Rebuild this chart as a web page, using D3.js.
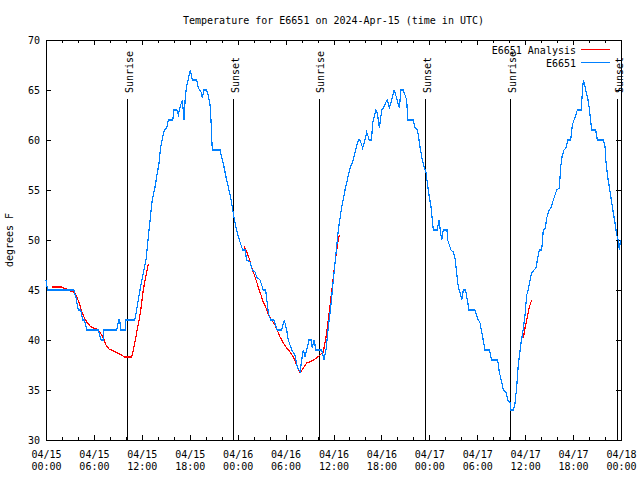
<!DOCTYPE html>
<html>
<head>
<meta charset="utf-8">
<script src="https://cdn.jsdelivr.net/npm/d3@7"></script>
<style>
body { margin:0; background:#fff; }
#vis1 { width:640px; height:480px; }
text { font-family:"DejaVu Sans Mono","Liberation Mono",monospace; font-size:10px; fill:#000; }
</style>
</head>
<body>
<div id="vis1"></div>
<script>
var start = Date.UTC(2024, 3, 15);   // 04/15 00:00 UTC

// hours after start, degrees F
var obs = [[0,46],[0.2,45],[3.5,45],[3.76,44.2],[4.04,43],[4.35,43],[4.6,42],[4.82,42],[5.1,41],[6.55,41],
	[6.9,40],[7.14,40],[7.26,41],[8.85,41],[9.1,42],[9.23,42],[9.35,41],[9.9,41],[10.0,42],[11.1,42],
	[11.35,43],[11.77,45],[12.18,46.7],[12.52,48],[12.9,51],[13.3,54],[13.65,55.3],[13.94,56.7],[14.15,57.7],[14.36,59.3],
	[14.61,60.3],[14.81,61],[15.11,61.2],[15.31,62],[15.87,62],[16.03,63],[16.37,63],[16.57,62.5],[16.78,63.3],[17.07,64],
	[17.28,62],[17.44,64.3],[17.62,65.4],[17.87,66.3],[18.07,67],[18.32,66],[18.87,66],[19.07,65.2],[19.41,64.8],[19.57,64.2],
	[19.78,65],[20.07,65],[20.32,64.5],[20.54,63.5],[20.66,62],[20.82,59],[21.79,59],[22.0,58.3],[22.29,57.3],[22.54,56.3],
	[22.83,55.3],[23.13,54.2],[23.45,52.7],[23.67,51.7],[23.95,50.7],[24.29,49.8],[24.63,49],[24.92,49],[25.13,48],[25.55,47.8],
	[25.83,47],[26.17,46.8],[26.38,46.3],[26.8,46],[27.21,45],[27.51,45],[27.84,42.7],[28.14,42],[28.55,42],[28.96,41],
	[29.51,41],[29.84,42],[30.14,41],[30.34,40],[30.77,39],[31.18,38.5],[31.47,37.3],[31.81,36.8],[32.02,38],[32.22,39],
	[32.43,38.3],[32.72,39.3],[32.93,40],[33.18,40],[33.35,39.2],[33.56,40],[33.81,39],[34.52,39],[34.81,38],[35.06,39],
	[35.35,41.3],[35.65,43.3],[35.98,46],[36.31,48.7],[36.6,51],[37.03,53.3],[37.44,55],[37.73,56],[38.07,57.2],[38.48,58],
	[38.82,59.2],[39.11,60],[39.32,60],[39.65,59.2],[39.94,60],[40.16,60.8],[40.48,60],[40.76,60],[40.91,61.7],[41.07,62.2],
	[41.32,63],[41.49,62.7],[41.74,61.2],[42.04,63],[42.24,63.2],[42.58,63.8],[42.74,64],[42.99,63.2],[43.29,64],[43.58,65],
	[43.79,64.5],[44.04,63.8],[44.24,63.2],[44.45,65],[44.74,65],[44.95,64.5],[45.17,64],[45.29,62],[45.99,62],[46.21,61.2],
	[46.5,61],[46.62,60.5],[46.83,59.3],[47.05,58.3],[47.34,57.3],[47.59,56.7],[47.75,55.7],[48.0,54.3],[48.21,53.3],[48.5,51],
	[49.0,51],[49.21,52],[49.42,50.7],[49.55,50],[49.75,51],[50.21,51],[50.3,50],[50.71,49],[51.0,48.8],[51.21,48.2],
	[51.42,46.7],[51.63,45.3],[51.93,44.5],[52.05,44],[52.26,45],[52.53,45],[52.76,44],[52.97,43],[53.72,43],[54.01,42.2],
	[54.35,41.7],[54.68,40.3],[54.97,39],[55.51,39],[55.81,38],[56.56,38],[56.76,36.8],[57.06,35.8],[57.26,35],[57.6,34.8],
	[57.81,34],[58.1,33.8],[58.23,33],[58.52,33],[58.73,33.7],[58.94,35.3],[59.14,37.5],[59.44,39.5],[59.69,40.7],[59.98,42.5],
	[60.19,44.5],[60.39,45],[60.61,46],[60.82,46.7],[61.11,47],[61.36,47.2],[61.57,48.2],[61.77,49],[62.07,49],[62.27,51],
	[62.52,51.2],[62.7,52.2],[62.99,53],[63.2,53.2],[63.45,53.8],[63.61,54.2],[63.95,55],[64.28,55.2],[64.45,57.3],[64.61,58.3],
	[64.86,59],[65.11,59.2],[65.33,60],[65.7,60],[65.9,61.5],[66.12,62],[66.28,62.3],[66.53,63],[67.0,63],[67.16,64.7],
	[67.28,66],[67.41,65.7],[67.62,64.8],[67.83,64.2],[68.03,63.2],[68.21,61.8],[68.33,61],[68.83,61],[69.04,60],[69.79,60],
	[70.0,59.3],[70.12,57.8],[70.33,56.3],[70.54,55.3],[70.84,53.7],[71.04,52.7],[71.25,51.7],[71.46,50.5],[71.66,50],[71.79,49],
	[71.93,50]];

// analysis runs, one per morning
var ana1 = [[0.71,45.3],[1.97,45.3],[2.17,45.2],[2.59,45.1],[3.0,44.9],[3.42,44.8],[3.63,44.7],[3.84,44.3],[4.17,43.7],[4.47,42.8],
	[4.76,42.3],[5.1,41.8],[5.51,41.4],[5.92,41.2],[6.35,41.1],[6.76,40.8],[7.18,40.2],[7.51,39.5],[7.89,39.1],[8.43,38.9],
	[8.93,38.7],[9.48,38.5],[9.77,38.3],[10.73,38.3],[10.93,39],[11.23,40.2],[11.48,41.3],[11.77,42.5],[11.98,43.7],[12.18,45],
	[12.48,46.3],[12.81,47.6]];
var ana2 = [[24.79,49.4],[25.13,48.8],[25.42,48.2],[25.67,47.5],[25.96,46.8],[26.3,46],[26.58,45.3],[26.92,44.5],[27.21,43.8],[27.55,43.2],
	[27.84,42.5],[28.26,42],[28.68,41.5],[28.96,41],[29.3,40.3],[29.72,39.7],[30.14,39.2],[30.55,38.8],[30.97,38.3],[31.39,37.5],
	[31.81,36.7],[32.22,37.2],[32.64,37.7],[33.27,37.9],[33.9,38.2],[34.31,38.5],[34.72,38.8],[35.06,40.3],[35.35,42],[35.69,44.3],
	[35.98,46.3],[36.28,48.3],[36.53,49.7],[36.73,50.5]];
var ana3 = [[59.77,40.2],[59.98,41.2],[60.27,42.3],[60.52,43.3],[60.82,44]];

var sun_labels = ["Sunrise","Sunset","Sunrise","Sunset","Sunrise","Sunset"];
var sun_hours = [10.18, 23.46, 34.15, 47.5, 58.12, 71.54];

var y_ticks = [30,35,40,45,50,55,60,65,70];
var x_major = [0,6,12,18,24,30,36,42,48,54,60,66,72];
var x_minor = [2,4,8,10,14,16,20,22,26,28,32,34,38,40,44,46,50,52,56,58,62,64,68,70];

function toDate(hr) { return new Date(start + hr*3600000); }

gen_vis();

function gen_vis()
{
	var w = 640, h = 480;
	var left = 46, right = 621, top = 40, bottom = 440;

	var svg = d3.select("#vis1")
		.append("svg")
		.attr("width",w)
		.attr("height",h);

	var x = d3.scaleUtc()
		.domain([toDate(0), toDate(72)])
		.range([left, right]);
	var y = d3.scaleLinear()
		.domain([30,70])
		.range([bottom, top]);

	var fmtDay = d3.utcFormat("%m/%d");
	var fmtTime = d3.utcFormat("%H:%M");

	// bottom axis, labels on two lines
	var gx = svg.append("g")
		.attr("transform","translate(0,"+bottom+")")
		.call(d3.axisBottom(x).tickValues(x_major.map(toDate)).tickSize(-5).tickSizeOuter(0));
	gx.selectAll(".tick text")
		.attr("dy",null)
		.attr("y",null)
		.text(null)
		.each(function(d){
			var t = d3.select(this);
			t.append("tspan").attr("x",0).attr("y",17.5).text(fmtDay(d));
			t.append("tspan").attr("x",0).attr("y",29.5).text(fmtTime(d));
		});
	svg.append("g")
		.attr("transform","translate(0,"+bottom+")")
		.call(d3.axisBottom(x).tickValues(x_minor.map(toDate)).tickSize(-3).tickSizeOuter(0).tickFormat(""));

	// mirrored ticks on top
	svg.append("g")
		.attr("transform","translate(0,"+top+")")
		.call(d3.axisTop(x).tickValues(x_major.map(toDate)).tickSize(-5).tickSizeOuter(0).tickFormat(""));
	svg.append("g")
		.attr("transform","translate(0,"+top+")")
		.call(d3.axisTop(x).tickValues(x_minor.map(toDate)).tickSize(-3).tickSizeOuter(0).tickFormat(""));

	svg.append("g")
		.attr("transform","translate("+left+",0)")
		.call(d3.axisLeft(y).tickValues(y_ticks).tickSize(-5).tickPadding(6).tickSizeOuter(0));
	svg.append("g")
		.attr("transform","translate("+right+",0)")
		.call(d3.axisRight(y).tickValues(y_ticks).tickSize(-5).tickSizeOuter(0).tickFormat(""));

	svg.selectAll(".domain").remove();
	svg.selectAll(".tick line").attr("shape-rendering","crispEdges");
	svg.selectAll(".tick text").attr("font-family",null).attr("font-size",null);

	svg.append("rect")
		.attr("x",left+0.5)
		.attr("y",top+0.5)
		.attr("width",right-left)
		.attr("height",bottom-top)
		.attr("fill","none")
		.attr("stroke","#000")
		.attr("shape-rendering","crispEdges");

	// sunrise / sunset markers
	var ev = svg.selectAll("g.sun")
		.data(sun_hours)
		.enter()
		.append("g")
		.attr("class","sun");
	ev.append("line")
		.attr("x1",function(d){ return Math.round(x(toDate(d)))+0.5; })
		.attr("x2",function(d){ return Math.round(x(toDate(d)))+0.5; })
		.attr("y1",bottom)
		.attr("y2",top+59)
		.attr("stroke","#000")
		.attr("shape-rendering","crispEdges");
	ev.append("text")
		.attr("transform",function(d){ return "translate("+(x(toDate(d))+5.5)+","+(top+53)+") rotate(-90)"; })
		.text(function(d,i){ return sun_labels[i]; });

	var line = d3.line()
		.x(function(d){ return x(toDate(d[0])); })
		.y(function(d){ return y(d[1]); });

	// no antialiasing, like the png terminal
	[ana1, ana2, ana3].forEach(function(seg){
		svg.append("path")
			.datum(seg)
			.attr("d",line)
			.attr("fill","none")
			.attr("stroke","#ff0000")
			.attr("stroke-width",1.2)
			.attr("shape-rendering","crispEdges");
	});

	svg.append("path")
		.datum(obs)
		.attr("d",line)
		.attr("fill","none")
		.attr("stroke","#0080ff")
		.attr("stroke-width",1.2)
		.attr("shape-rendering","crispEdges");

	// legend
	var legend = [["E6651 Analysis","#ff0000"],["E6651","#0080ff"]];
	legend.forEach(function(l,i){
		svg.append("text")
			.attr("x",576)
			.attr("y",54+i*13)
			.attr("text-anchor","end")
			.text(l[0]);
		svg.append("line")
			.attr("x1",581).attr("x2",610)
			.attr("y1",49.5+i*13).attr("y2",49.5+i*13)
			.attr("stroke",l[1])
			.attr("shape-rendering","crispEdges");
	});

	svg.append("text")
		.attr("x",(left+right)/2)
		.attr("y",23.5)
		.attr("text-anchor","middle")
		.text("Temperature for E6651 on 2024-Apr-15 (time in UTC)");

	svg.append("text")
		.attr("transform","translate(13,"+((top+bottom)/2)+") rotate(-90)")
		.attr("text-anchor","middle")
		.text("degrees F");
}
</script>
</body>
</html>
